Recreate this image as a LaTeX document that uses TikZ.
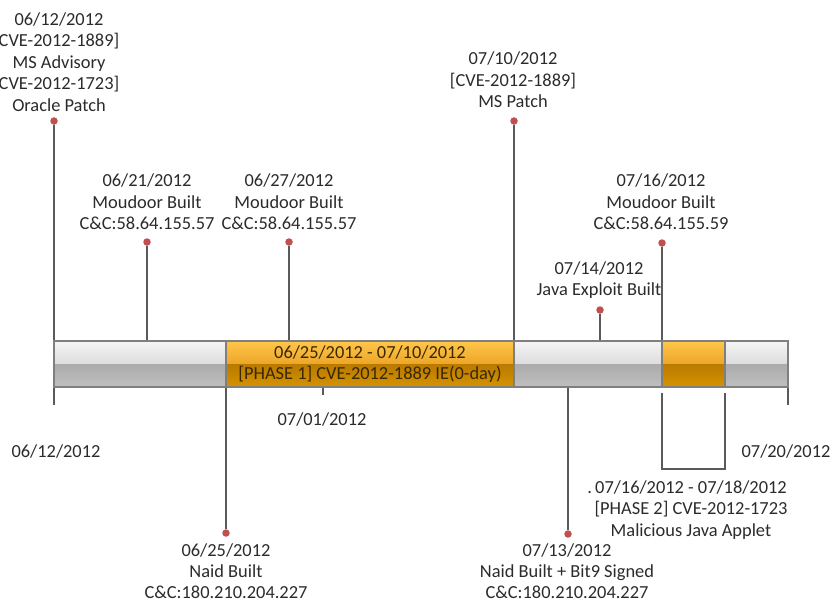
\documentclass[tikz,border=0pt]{standalone}
\usepackage{fontspec}
\setmainfont{Carlito}
\definecolor{txt}{HTML}{2B2B2B}
\definecolor{pinred}{HTML}{C0504D}
\definecolor{stemgray}{HTML}{5A5A5A}
\definecolor{barline}{HTML}{7F7F7F}
\definecolor{intxt}{HTML}{3A2800}
\begin{document}
\begin{tikzpicture}[x=1pt,y=-1pt,
  lbl/.style={align=center, font=\fontsize{18.4}{21.5}\selectfont, text=txt, inner sep=0pt},
  lblb/.style={lbl, font=\fontsize{18.4}{21}\selectfont},
  pin/.style={circle, fill=pinred, inner sep=0pt, minimum size=7.5pt},
  stem/.style={draw=stemgray, line width=1.3pt},
  edge/.style={draw=barline, line width=1.2pt},
  graytop/.style={top color=gray!8, bottom color=gray!27},
  graybot/.style={top color=gray!66, bottom color=gray!50},
  orgtop/.style={top color={rgb,255:red,255;green,198;blue,74}, bottom color={rgb,255:red,236;green,166;blue,40}},
  orgbot/.style={top color={rgb,255:red,184;green,122;blue,0}, bottom color={rgb,255:red,214;green,146;blue,0}}]
\useasboundingbox (0,0) rectangle (833,603);

% bar coordinates
\coordinate (bL) at (54,341);
\coordinate (bR) at (788,387);
% pins
\node[pin] (p0612) at (54,121) {};
\node[pin] (p0621) at (147,242) {};
\node[pin] (p0627) at (289,242) {};
\node[pin] (p0710) at (514,121) {};
\node[pin] (p0714) at (600,310) {};
\node[pin] (p0716) at (662,243) {};
\node[pin] (p0625) at (226,533) {};
\node[pin] (p0713) at (568,534) {};
% attach points
\coordinate (a0612) at (54,405);
\coordinate (a0621) at (147,341);
\coordinate (a0627) at (289,341);
\coordinate (a0710) at (514,341);
\coordinate (a0714) at (600,341);
\coordinate (a0716) at (662,341);
\coordinate (a0625) at (226,387);
\coordinate (a0713) at (568,387);
\coordinate (t0701a) at (323,387);
\coordinate (t0701b) at (323,395);
\coordinate (rEa) at (788,341);
\coordinate (rEb) at (788,405);

% stems
\draw[stem] (p0612) -- (a0612);
\draw[stem] (p0621) -- (a0621);
\draw[stem] (p0627) -- (a0627);
\draw[stem] (p0710) -- (a0710);
\draw[stem] (p0714) -- (a0714);
\draw[stem] (p0716) -- (a0716);
\draw[stem] (p0625) -- (a0625);
\draw[stem] (p0713) -- (a0713);
\draw[stem] (t0701a) -- (t0701b);
\draw[stem] (rEa) -- (rEb);

% bar segments
\shade[graytop] (54,341) rectangle (226,364);
\shade[graybot] (54,364) rectangle (226,387);
\shade[orgtop] (226,341) rectangle (514,364);
\shade[orgbot] (226,364) rectangle (514,387);
\shade[graytop] (514,341) rectangle (662,364);
\shade[graybot] (514,364) rectangle (662,387);
\shade[orgtop] (662,341) rectangle (725,364);
\shade[orgbot] (662,364) rectangle (725,387);
\shade[graytop] (725,341) rectangle (788,364);
\shade[graybot] (725,364) rectangle (788,387);
\draw[edge] (bL) rectangle (bR);
\draw[edge] (226,341) -- (226,387);
\draw[edge] (514,341) -- (514,387);
\draw[edge] (662,341) -- (662,387);
\draw[edge] (725,341) -- (725,387);

% bracket
\coordinate (k1) at (662,393);
\coordinate (k2) at (725,393);
\draw[stem] (k1) -- (662,469) -- (725,469) -- (k2);

% labels
\node[lbl] (l0612) at (59,62) {06/12/2012\\CVE-2012-1889]\\MS Advisory\\CVE-2012-1723]\\Oracle Patch};
\node[lbl] (l0710) at (513,80) {07/10/2012\\{[CVE-2012-1889]}\\MS Patch};
\node[lbl] (l0621) at (147,202) {06/21/2012\\Moudoor Built\\C\&C:58.64.155.57};
\node[lbl] (l0627) at (289,202) {06/27/2012\\Moudoor Built\\C\&C:58.64.155.57};
\node[lbl] (l0716) at (661,202) {07/16/2012\\Moudoor Built\\C\&C:58.64.155.59};
\node[lbl] (l0714) at (599,280) {07/14/2012\\Java Exploit Built};
\node[lbl, text=intxt] (lph1) at (370,364) {06/25/2012 - 07/10/2012\\{[PHASE 1]} CVE-2012-1889 IE(0-day)};
\node[lbl] (l0701) at (322,419) {07/01/2012};
\node[lbl] (l0612b) at (56,451) {06/12/2012};
\node[lbl] (l0720) at (786,451) {07/20/2012};
\node[lbl] (lph2) at (691,510) {\llap{.\,}07/16/2012 - 07/18/2012\\{[PHASE 2]} CVE-2012-1723\\Malicious Java Applet};
\node[lblb] (l0625) at (226,571) {06/25/2012\\Naid Built\\C\&C:180.210.204.227};
\node[lblb] (l0713) at (567,571) {07/13/2012\\Naid Built + Bit9 Signed\\C\&C:180.210.204.227};
\end{tikzpicture}
\end{document}
